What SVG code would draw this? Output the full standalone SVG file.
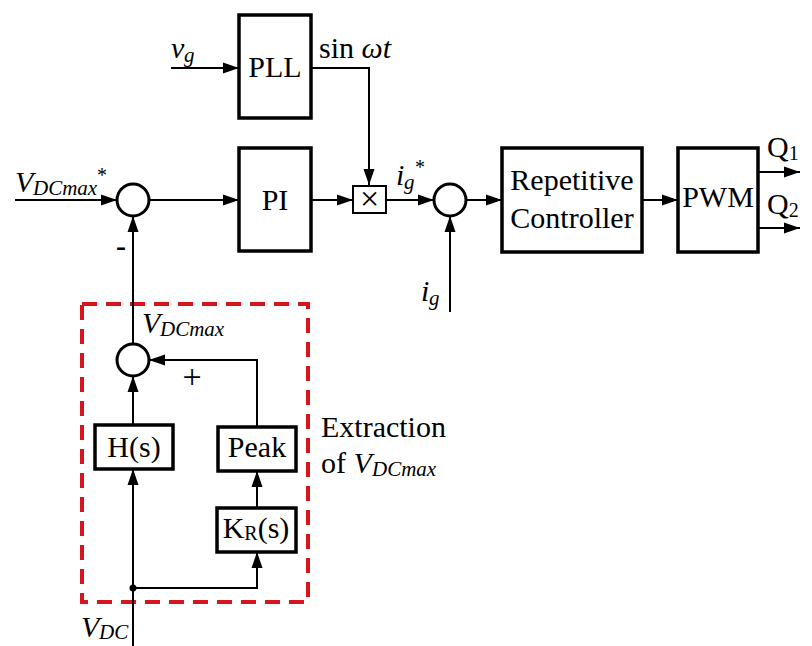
<svg xmlns="http://www.w3.org/2000/svg" width="812" height="646" viewBox="0 0 812 646" font-family="'Liberation Serif', 'Times New Roman', serif">
<defs>
<marker id="arr" markerUnits="userSpaceOnUse" markerWidth="18" markerHeight="12" refX="16" refY="6" orient="auto">
<path d="M0,0.5 L16,6 L0,11.5 Z" fill="#000"/>
</marker>
<style>
.box{fill:#fff;stroke:#000;stroke-width:3.5}
.sum{fill:#fff;stroke:#000;stroke-width:3}
.ln{fill:none;stroke:#000;stroke-width:2}
.t{font-family:'Liberation Serif','Times New Roman',serif;font-size:30px;fill:#000}
.it{font-style:italic}
.sub{font-size:21px}
.mid{text-anchor:middle}
</style>
</defs>
<rect width="812" height="646" fill="#fff"/>
<g id="extraction-frame">
<rect x="82" y="304" width="226" height="298" fill="none" stroke="#d8141c" stroke-width="4" stroke-dasharray="15 9"/>
</g>
<g id="connectors">
<path class="ln" d="M171,68 H239" marker-end="url(#arr)"/>
<path class="ln" d="M311,68 H369 V185" marker-end="url(#arr)"/>
<path class="ln" d="M15,200 H117" marker-end="url(#arr)"/>
<path class="ln" d="M149,200 H239" marker-end="url(#arr)"/>
<path class="ln" d="M311,200 H353" marker-end="url(#arr)"/>
<path class="ln" d="M386,200 H434" marker-end="url(#arr)"/>
<path class="ln" d="M466,200 H502" marker-end="url(#arr)"/>
<path class="ln" d="M642,200 H678" marker-end="url(#arr)"/>
<path class="ln" d="M758,172 H800" marker-end="url(#arr)"/>
<path class="ln" d="M758,228 H800" marker-end="url(#arr)"/>
<path class="ln" d="M450,312 V216" marker-end="url(#arr)"/>
<path class="ln" d="M133,344 V216" marker-end="url(#arr)"/>
<path class="ln" d="M257,427 V360 H149" marker-end="url(#arr)"/>
<path class="ln" d="M133,425 V376" marker-end="url(#arr)"/>
<path class="ln" d="M133,646 V469" marker-end="url(#arr)"/>
<path class="ln" d="M133,588 H257 V552" marker-end="url(#arr)"/>
<path class="ln" d="M257,508 V471" marker-end="url(#arr)"/>
<circle cx="133" cy="588" r="3.5" fill="#000"/>
</g>
<g id="pll">
<rect class="box" x="239" y="15" width="72" height="103"/>
<text class="t mid" x="275" y="77">PLL</text>
</g>
<g id="pi">
<rect class="box" x="239" y="148" width="72" height="103"/>
<text class="t mid" x="275" y="210">PI</text>
</g>
<g id="multiplier">
<rect x="353" y="186" width="33" height="27" fill="#fff" stroke="#000" stroke-width="2"/>
<text class="t mid" x="369.5" y="210" style="font-size:34px">×</text>
</g>
<g id="sum1"><circle class="sum" cx="133" cy="200" r="16"/></g>
<g id="sum2"><circle class="sum" cx="450" cy="200" r="16"/></g>
<g id="sum3"><circle class="sum" cx="133" cy="360" r="16"/></g>
<g id="repetitive-controller">
<rect class="box" x="502" y="148" width="140" height="104"/>
<text class="t mid" x="572" y="190">Repetitive</text>
<text class="t mid" x="572" y="228">Controller</text>
</g>
<g id="pwm">
<rect class="box" x="678" y="148" width="80" height="104"/>
<text class="t mid" x="718" y="207">PWM</text>
</g>
<g id="hs">
<rect class="box" x="95" y="425" width="78" height="44"/>
<text class="t mid" x="134" y="457">H(s)</text>
</g>
<g id="peak">
<rect class="box" x="218" y="427" width="78" height="44"/>
<text class="t mid" x="257" y="457">Peak</text>
</g>
<g id="kr">
<rect class="box" x="217" y="508" width="79" height="44"/>
<text class="t mid" x="256" y="538">K<tspan style="font-size:20px" dy="2">R</tspan><tspan dy="-2">(s)</tspan></text>
</g>
<g id="labels">
<text class="t" x="171" y="58"><tspan class="it">v</tspan><tspan class="it sub" x="184" dy="4">g</tspan></text>
<text class="t" x="319" y="58">sin <tspan class="it">ωt</tspan></text>
<text class="t" x="15" y="192"><tspan class="it">V</tspan><tspan class="it sub" x="33" dy="3">DCmax</tspan></text>
<text class="t" x="97" y="182" style="font-size:20px">*</text>
<text class="t" x="116" y="256" style="font-weight:bold">-</text>
<text class="t" x="396" y="185"><tspan class="it">i</tspan><tspan class="it sub" x="404" dy="4">g</tspan></text>
<text class="t" x="415" y="174" style="font-size:20px">*</text>
<text class="t" x="421" y="301"><tspan class="it">i</tspan><tspan class="it sub" x="429" dy="4">g</tspan></text>
<text class="t" x="767" y="157">Q<tspan style="font-size:20px" dy="3">1</tspan></text>
<text class="t" x="767" y="214">Q<tspan style="font-size:20px" dy="3">2</tspan></text>
<text class="t" x="142" y="333"><tspan class="it">V</tspan><tspan class="it sub" x="160" dy="3">DCmax</tspan></text>
<text class="t mid" x="192" y="388" style="font-size:34px">+</text>
<text class="t" x="321" y="437">Extraction</text>
<text class="t" x="321" y="473">of <tspan class="it">V</tspan><tspan class="it sub" x="372" dy="3">DCmax</tspan></text>
<text class="t" x="81" y="637"><tspan class="it">V</tspan><tspan class="it sub" x="99" dy="2">DC</tspan></text>
</g>
</svg>
